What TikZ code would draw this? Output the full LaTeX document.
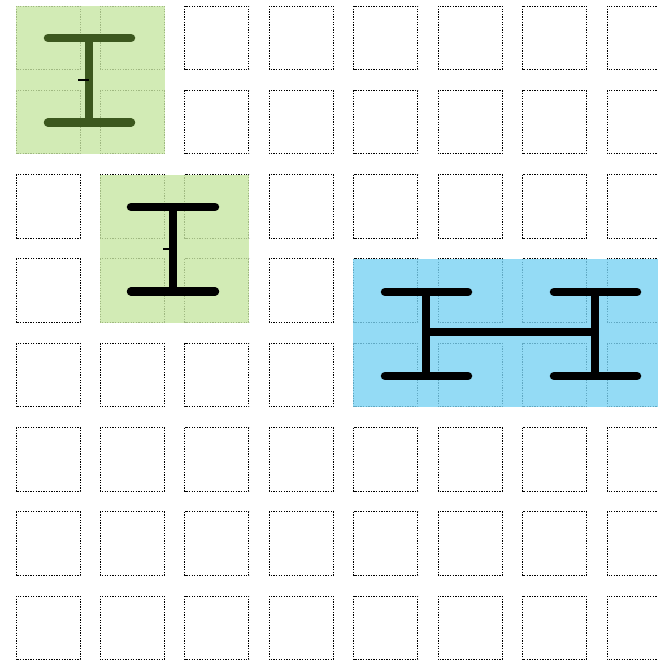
\documentclass[tikz,border=0pt]{standalone}
\definecolor{gfill}{RGB}{199,230,162}
\definecolor{bfill}{RGB}{121,210,243}
\definecolor{beamgreen}{RGB}{60,88,30}
\tikzset{
  cell/.style={draw=black, line width=1pt, dash pattern=on 1.3pt off 1.3pt},
  panel/.style={fill opacity=0.8},
  beam/.style={line width=8.5pt, line cap=round},
  web/.style={line width=8.5pt},
  tick/.style={draw=black, line width=1.2pt}
}
\begin{document}
\begin{tikzpicture}[x=1pt,y=-1pt]
\useasboundingbox (0,0) rectangle (658,662);
\clip (0,0) rectangle (658,662);
% grid of dotted cells
\foreach \i in {0,...,7}{
  \foreach \j in {0,...,7}{
    \draw[cell] ({16+84.43*\i},{6+84.3*\j}) rectangle +(64,63.5);
  }
}
% panels
\fill[gfill,panel] (16,6) rectangle (164.5,154);
\fill[gfill,panel] (100,175) rectangle (248.5,322.5);
\fill[bfill,panel] (353,259) rectangle (670,407);
% beam 1 (dark green)
\draw[beamgreen,beam] (48,38) -- (131,38);
\draw[beamgreen,beam] (48,122.5) -- (131,122.5);
\draw[beamgreen,web] (89,38) -- (89,122.5);
\draw[tick] (78,80) -- (89,80);
% beam 2 (black)
\draw[black,beam] (131,207) -- (215,207);
\draw[black,beam] (131,291.5) -- (215,291.5);
\draw[black,web] (173,207) -- (173,291.5);
\draw[tick] (163,249) -- (173,249);
% H shape
\draw[black,beam] (385,292) -- (468,292);
\draw[black,beam] (385,376) -- (468,376);
\draw[black,web] (426,292) -- (426,376);
\draw[black,beam] (554,292) -- (637,292);
\draw[black,beam] (554,376) -- (637,376);
\draw[black,web] (595,292) -- (595,376);
\draw[black,web] (426,332) -- (595,332);
\end{tikzpicture}
\end{document}
